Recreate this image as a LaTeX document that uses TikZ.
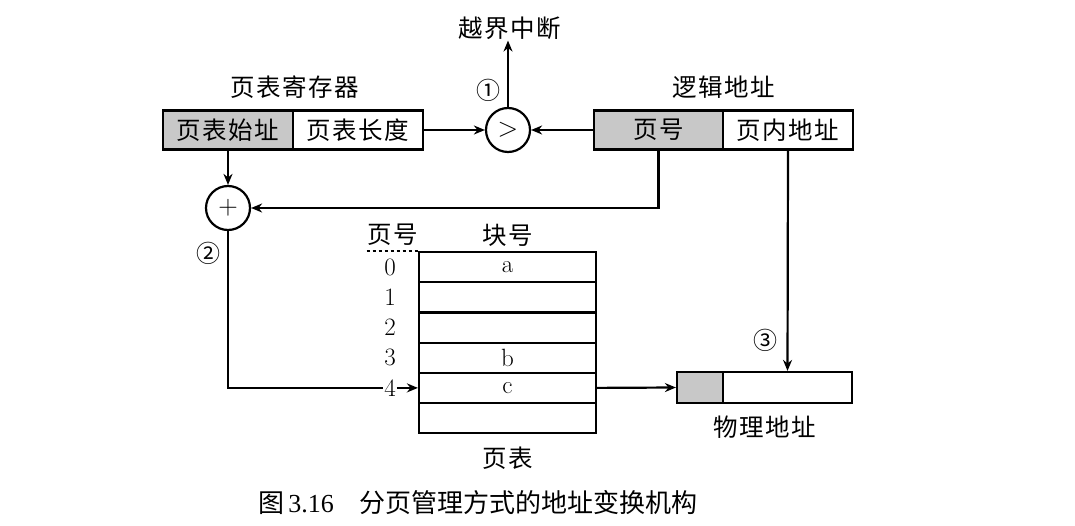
\documentclass[tikz,border=0pt]{standalone}
\usepackage{fontspec}
\newfontfamily\cjk[LetterSpace=6]{Noto Sans CJK SC}
\newfontfamily\cjkcap{Noto Sans CJK SC}
\newfontfamily\timesfont{Liberation Serif}
\usetikzlibrary{arrows.meta}
\definecolor{fieldgray}{HTML}{C8C8C8}

\begin{document}
\begin{tikzpicture}[x=1pt, y=-1pt,
    every node/.style={inner sep=1pt},
    lbl/.style={font=\cjk\fontsize{24.5}{26}\selectfont},
    num/.style={font=\fontsize{25}{27}\selectfont},
    circnum/.style={font=\cjkcap\fontsize{24}{26}\selectfont},
    field/.style={draw, line width=2.2pt, minimum height=39pt, inner sep=0pt, lbl},
    shaded/.style={field, fill=fieldgray},
    op/.style={draw, circle, line width=2.2pt, minimum size=44pt, inner sep=0pt, font=\fontsize{27}{29}\selectfont},
    cell/.style={draw, line width=2.2pt, minimum width=177pt, minimum height=30.2pt, inner sep=0pt, num},
    arr/.style={-{Stealth[length=11pt, width=9pt]}, line width=2.2pt},
    wire/.style={line width=2.2pt}]

\useasboundingbox[fill=white] (0,0) rectangle (1075,526);

% Page table register
\node[lbl] (reglabel) at (295,87) {页表寄存器};
\node[shaded, minimum width=130pt] (regbase) at (228,130) {页表始址};
\node[field, minimum width=130pt] (reglen) at (358,130) {页表长度};

% Logical address
\node[lbl] (loglabel) at (724,87) {逻辑地址};
\node[shaded, minimum width=129pt] (logpage) at (658.5,130) {页号};
\node[field, minimum width=130pt] (logoffset) at (788,130) {页内地址};

% Comparator and adder
\node[op] (cmp) at (508,130) {>};
\node[op] (add) at (228,208) {+};
\node[lbl] (overflow) at (510,28) {越界中断};
\node[circnum] (stepone) at (488,90) {①};
\node[circnum] (steptwo) at (208,253) {②};
\node[circnum] (stepthree) at (765,340) {③};

% Page table
\node[lbl] (hdrpage) at (393,235) {页号};
\node[lbl] (hdrblock) at (508,235) {块号};
\foreach \i/\blk in {0/a,1/,2/,3/b,4/c,5/} {
    \node[cell] (row\i) at (507.5,{267.1+30.2*\i}) {\blk};
}
\foreach \i in {0,...,4} {
    \node[num] (num\i) at (390,{267.1+30.2*\i}) {\i};
}
\draw[dashed, line width=1.6pt] (hdrpage.south west |- row0.north) -- (row0.north west);
\node[lbl] (tablelabel) at (508,458) {页表};

% Physical address
\node[shaded, minimum width=46pt, minimum height=31pt] (physframe) at (700,387.5) {};
\node[field, minimum width=129pt, minimum height=31pt] (physoffset) at (787.5,387.5) {};
\node[lbl] (physlabel) at (765,427) {物理地址};

% Connectors
\draw[arr] (reglen.east) -- (cmp.west);
\draw[arr] (logpage.west) -- (cmp.east);
\draw[arr] (cmp.north) -- (cmp.north |- overflow.south);
\draw[arr] (regbase.south) -- (add.north);
\draw[arr] (logpage.south) |- (add.east);
\draw[wire] (add.south) |- (num4.west);
\draw[arr] (num4.east) -- (row4.west);
\draw[arr] (row4.east) -- (physframe.west);
\draw[arr] (logoffset.south) -- (physoffset.north);

% Caption
\node (caption) at (478,503) {\fontsize{26}{28}\selectfont{\cjkcap 图}\,{\timesfont 3.16}\quad{\cjkcap 分页管理方式的地址变换机构}};

\end{tikzpicture}
\end{document}
